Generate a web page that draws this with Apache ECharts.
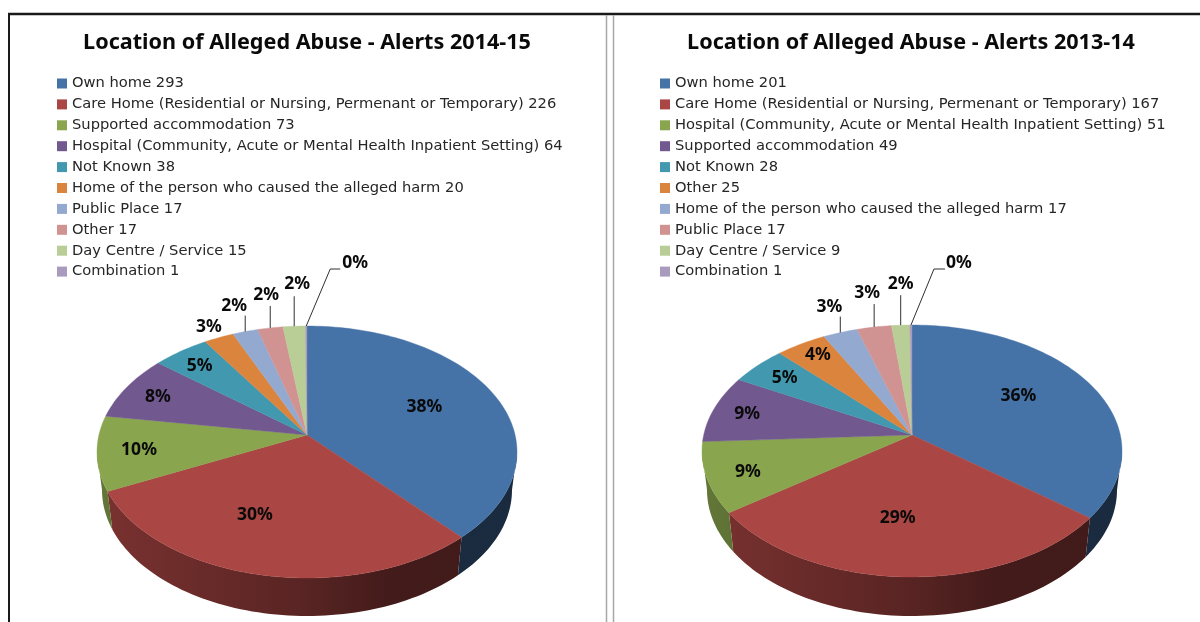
<!DOCTYPE html>
<html><head><meta charset="utf-8">
<script src="https://cdn.jsdelivr.net/npm/echarts@6/dist/echarts.min.js"></script>
<style>html,body{margin:0;padding:0;background:#fff}#c{width:1200px;height:622px}</style>
</head><body><div id="c"></div>
<script>
const titleA = 'Location of Alleged Abuse - Alerts 2014-15';
const categoriesA = ['Own home','Care Home (Residential or Nursing, Permenant or Temporary)','Supported accommodation','Hospital (Community, Acute or Mental Health Inpatient Setting)','Not Known','Home of the person who caused the alleged harm','Public Place','Other','Day Centre / Service','Combination'];
const valuesA = [293,226,73,64,38,20,17,17,15,1];
const percentLabelsA = ['38%','30%','10%','8%','5%','3%','2%','2%','2%','0%'];
const titleB = 'Location of Alleged Abuse - Alerts 2013-14';
const categoriesB = ['Own home','Care Home (Residential or Nursing, Permenant or Temporary)','Hospital (Community, Acute or Mental Health Inpatient Setting)','Supported accommodation','Not Known','Other','Home of the person who caused the alleged harm','Public Place','Day Centre / Service','Combination'];
const valuesB = [201,167,51,49,28,25,17,17,9,1];
const percentLabelsB = ['36%','29%','9%','9%','5%','4%','3%','3%','2%','0%'];
const colors = ['#4572A7','#AA4643','#89A54E','#71588F','#4198AF','#DB843D','#93A9CF','#D19392','#B9CD96','#A99BBD'];
// label offsets from the slice's rim point; leader lines run from the rim point
const labelOffsetA = [[-68,14],[-5,-60],[42,-3],[31,10],[19,15],[-10,-11],[-11,-26],[-4,-33],[3,-42],[49,-63]];
const labelOffsetB = [[-71,12],[-9,-59],[41,-6],[33,5],[27,12],[17,11],[-11,-26],[-7,-34],[0,-41],[48,-62]];
const leaderA = [null,null,null,null,null,null,[[0,-16]],[[0,-22]],[[0,-30]],[[24,-57],[34,-57]]];
const leaderB = [null,null,null,null,null,null,[[0,-16]],[[0,-23]],[[0,-30]],[[23,-56],[34,-56]]];

const FONT = '"Noto Sans", sans-serif';
const shades = [[0,.72],[.5,.52],[.7,.39],[1,.38]];
function darken(hex,f){
  const n=parseInt(hex.slice(1),16);
  const c=[n>>16&255,n>>8&255,n&255].map(v=>Math.round(v*f));
  return 'rgb('+c.join(',')+')';
}
function makePie(values,labels,geo,offsets,leaders){
  const total=values.reduce((a,b)=>a+b,0);
  const k=geo.apexShift/geo.ry, f=Math.sqrt(1-k*k);
  const proj=(deg)=>{
    const t=deg*Math.PI/180,u=Math.sin(t),v=-Math.cos(t),d=1-k*v;
    return [u*f/d,(v-k)/d];
  };
  const top=(deg)=>{const p=proj(deg);return [geo.cx+p[0]*geo.rx,geo.cy+p[1]*geo.ry];};
  const bottom=(deg)=>{const p=proj(deg);return [geo.cx+p[0]*geo.rxb,geo.cyb+p[1]*geo.ryb];};
  const limit=Math.acos(-k)*180/Math.PI;
  let cum=0;
  return values.map((val,i)=>{
    const start=cum/total*360; cum+=val; const end=cum/total*360;
    return (params,api)=>{
      const mid=(start+end)/2, base=colors[i];
      const arc=(a,b,fn)=>{const pts=[];const n=Math.max(2,Math.ceil((b-a)/1.5));for(let j=0;j<=n;j++)pts.push(fn(a+(b-a)*j/n));return pts;};
      const children=[];
      const wa=Math.max(start,limit),wb=Math.min(end,360-limit);
      if(wb>wa){
        const pts=arc(wa,wb,top).concat(arc(wa,wb,bottom).reverse());
        const x0=geo.cx-geo.rx,x1=geo.cx+geo.rx;
        const fill=new echarts.graphic.LinearGradient(x0,0,x1,0,shades.map(s=>({offset:s[0],color:darken(base,s[1])})),true);
        children.push({type:'polygon',z2:1,shape:{points:pts},style:{fill,stroke:null}});
      }
      children.push({type:'polygon',z2:2,shape:{points:[[geo.cx,geo.cy+geo.apexOffset]].concat(arc(start,end,top))},style:{fill:base,stroke:base,lineWidth:0.4}});
      const rim=top(mid),off=offsets[i];
      children.push({type:'text',z2:5,style:{x:rim[0]+off[0],y:rim[1]+off[1],text:labels[i],fill:'#0a0a0a',font:'bold 17.5px '+FONT,align:'center',verticalAlign:'middle'}});
      if(leaders[i]){
        const pts=[rim].concat(leaders[i].map(p=>[rim[0]+p[0],rim[1]+p[1]]));
        children.push({type:'polyline',z2:4,shape:{points:pts},style:{stroke:'#303030',lineWidth:1,fill:null}});
      }
      return {type:'group',children};
    };
  });
}
const geoA={cx:307,cy:452,rx:210,ry:126,apexShift:17,apexOffset:-17,cyb:490,rxb:205,ryb:126};
const geoB={cx:912,cy:451,rx:210,ry:126,apexShift:16,apexOffset:-16,cyb:490,rxb:205,ryb:126};
const renderA=makePie(valuesA,percentLabelsA,geoA,labelOffsetA,leaderA);
const renderB=makePie(valuesB,percentLabelsB,geoB,labelOffsetB,leaderB);
const names=(c,v)=>c.map((n,i)=>n+' '+v[i]);
const namesA=names(categoriesA,valuesA),namesB=names(categoriesB,valuesB);
const series=[];
const add=(nm,vals,rs)=>nm.forEach((n,i)=>series.push({type:'custom',name:n,coordinateSystem:'none',animation:false,silent:true,data:[[vals[i]]],itemStyle:{color:colors[i]},renderItem:rs[i]}));
add(namesA,valuesA,renderA);add(namesB,valuesB,renderB);
const legend=(nm,left)=>({orient:'vertical',left,top:76,icon:'rect',itemWidth:10,itemHeight:10,itemGap:5.9,padding:0,selectedMode:false,
  textStyle:{fontFamily:'DejaVu Sans',fontSize:14.7,color:'#262626',lineHeight:14,padding:[0,0,0,0]},
  data:nm.map((n,i)=>({name:n,itemStyle:{color:colors[i]}}))});
const chart=echarts.init(document.getElementById('c'),null,{renderer:'canvas'});
const titleStyle={fontFamily:FONT,fontSize:21.6,fontWeight:'bold',color:'#0a0a0a',lineHeight:30};
chart.setOption({
  animation:false,backgroundColor:'#fff',
  title:[
    {text:titleA,left:307,top:28,textAlign:'center',padding:0,textStyle:titleStyle},
    {text:titleB,left:911,top:28,textAlign:'center',padding:0,textStyle:titleStyle}
  ],
  legend:[legend(namesA,57),legend(namesB,660)],
  series,
  graphic:[
    {type:'line',silent:true,shape:{x1:8,y1:14,x2:1200,y2:14},style:{stroke:'#1a1a1a',lineWidth:2.5}},
    {type:'line',silent:true,shape:{x1:9,y1:14,x2:9,y2:622},style:{stroke:'#1a1a1a',lineWidth:2}},
    {type:'line',silent:true,shape:{x1:606.5,y1:15,x2:606.5,y2:622},style:{stroke:'#a8a8a8',lineWidth:1.5}},
    {type:'line',silent:true,shape:{x1:613.5,y1:15,x2:613.5,y2:622},style:{stroke:'#a8a8a8',lineWidth:1.5}}
  ]
});
</script></body></html>
